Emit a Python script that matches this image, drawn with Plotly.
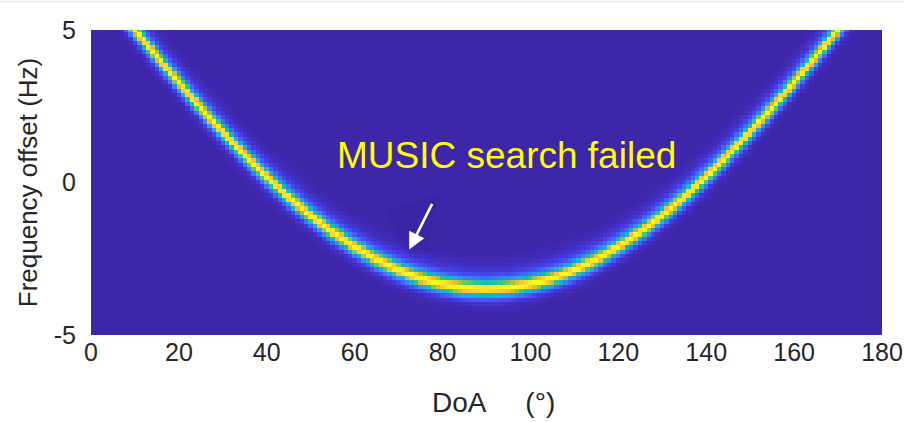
import numpy as np
import plotly.graph_objects as go

# Ridge of the MUSIC pseudospectrum: frequency offset (Hz) vs DoA (deg)
ridge_doa = list(range(0, 181, 5))
ridge_freq = [6.79, 5.89, 5.00, 4.13, 3.27, 2.44, 1.65, 0.89, 0.18, -0.49,
              -1.09, -1.64, -2.12, -2.54, -2.88, -3.15, -3.34, -3.46, -3.50,
              -3.46, -3.34, -3.15, -2.88, -2.54, -2.12, -1.64, -1.09, -0.49,
              0.18, 0.89, 1.65, 2.44, 3.27, 4.13, 5.00, 5.89, 6.79]

x_ticks = [0, 20, 40, 60, 80, 100, 120, 140, 160, 180]
y_ticks = [-5, 0, 5]
y_tick_text = ["-5", "0", "5"]

# Search grid
doa_grid = np.arange(0, 181, 1.0)
freq_grid = np.linspace(-5, 5, 71)

ridge_on_grid = np.interp(doa_grid, ridge_doa, ridge_freq)
D = freq_grid[:, None] - ridge_on_grid[None, :]
core = np.exp(-(D / 0.23) ** 2)
halo_w = np.where(D > 0, 0.58, 0.42)
halo = np.exp(-(D / halo_w) ** 2)
spectrum = np.clip(0.82 * core + 0.2 * halo, 0, 1)

parula = [
    [0.0, "rgb(62,38,168)"],
    [0.08, "rgb(69,57,222)"],
    [0.16, "rgb(71,89,249)"],
    [0.25, "rgb(54,126,252)"],
    [0.33, "rgb(43,151,237)"],
    [0.42, "rgb(27,174,223)"],
    [0.5, "rgb(1,188,199)"],
    [0.58, "rgb(45,196,147)"],
    [0.66, "rgb(114,204,91)"],
    [0.75, "rgb(197,195,42)"],
    [0.83, "rgb(251,186,61)"],
    [0.91, "rgb(251,210,50)"],
    [1.0, "rgb(249,251,21)"],
]

fig = go.Figure()
fig.add_trace(go.Heatmap(
    x=doa_grid, y=freq_grid, z=spectrum,
    colorscale=parula, zmin=0, zmax=1, showscale=False,
    hoverinfo="skip",
))

font_family = "Liberation Sans, Arial, Helvetica, sans-serif"
tick_font = dict(family=font_family, size=25, color="#262626")
nb = "\u00a0"

fig.update_xaxes(
    range=[0, 180], tickvals=x_ticks, ticks="",
    showgrid=False, automargin=False,
    zeroline=False, showline=False, tickfont=tick_font,
)
fig.update_yaxes(
    range=[-5, 5], tickvals=y_ticks, ticktext=y_tick_text,
    ticks="outside", ticklen=9, tickcolor="rgba(0,0,0,0)", showgrid=False,
    zeroline=False, showline=False, tickfont=tick_font, automargin=False,
    title=dict(text="Frequency offset (Hz)",
               font=dict(family=font_family, size=26, color="#262626"),
               standoff=8),
)

# x-axis label
fig.add_annotation(
    x=0.509, y=-0.22, xref="paper", yref="paper", yanchor="middle",
    text="DoA" + nb * 5 + "(°)", showarrow=False,
    font=dict(family=font_family, size=28, color="#262626"),
)

# Faint shadow where the search failed
fig.add_shape(type="path",
              path="M 66.9,-0.9 L 73.0,-2.55 L 76.5,-2.3 L 78.9,-0.4 Z",
              fillcolor="rgba(30,15,110,0.07)", line=dict(width=0),
              layer="above")

fig.add_annotation(
    x=94.6, y=0.9, xref="x", yref="y", text="MUSIC search failed",
    showarrow=False,
    font=dict(family=font_family, size=37, color="#FFFF00"),
)
fig.add_annotation(
    x=72.4, y=-2.2, ax=77.8, ay=-0.65, xref="x", yref="y",
    axref="x", ayref="y", text="", showarrow=True,
    arrowhead=2, arrowsize=1.3, arrowwidth=2.6, arrowcolor="white",
)

# Thin rule along the top of the page
fig.add_shape(type="line", xref="paper", yref="paper",
              x0=-0.2, x1=1.1, y0=1.093, y1=1.093,
              line=dict(color="#E6E6E6", width=1))

fig.update_layout(
    width=904, height=422,
    margin=dict(l=91, r=22, t=30, b=87),
    paper_bgcolor="white", plot_bgcolor="rgb(62,38,168)",
)

fig.write_html("out.html")
